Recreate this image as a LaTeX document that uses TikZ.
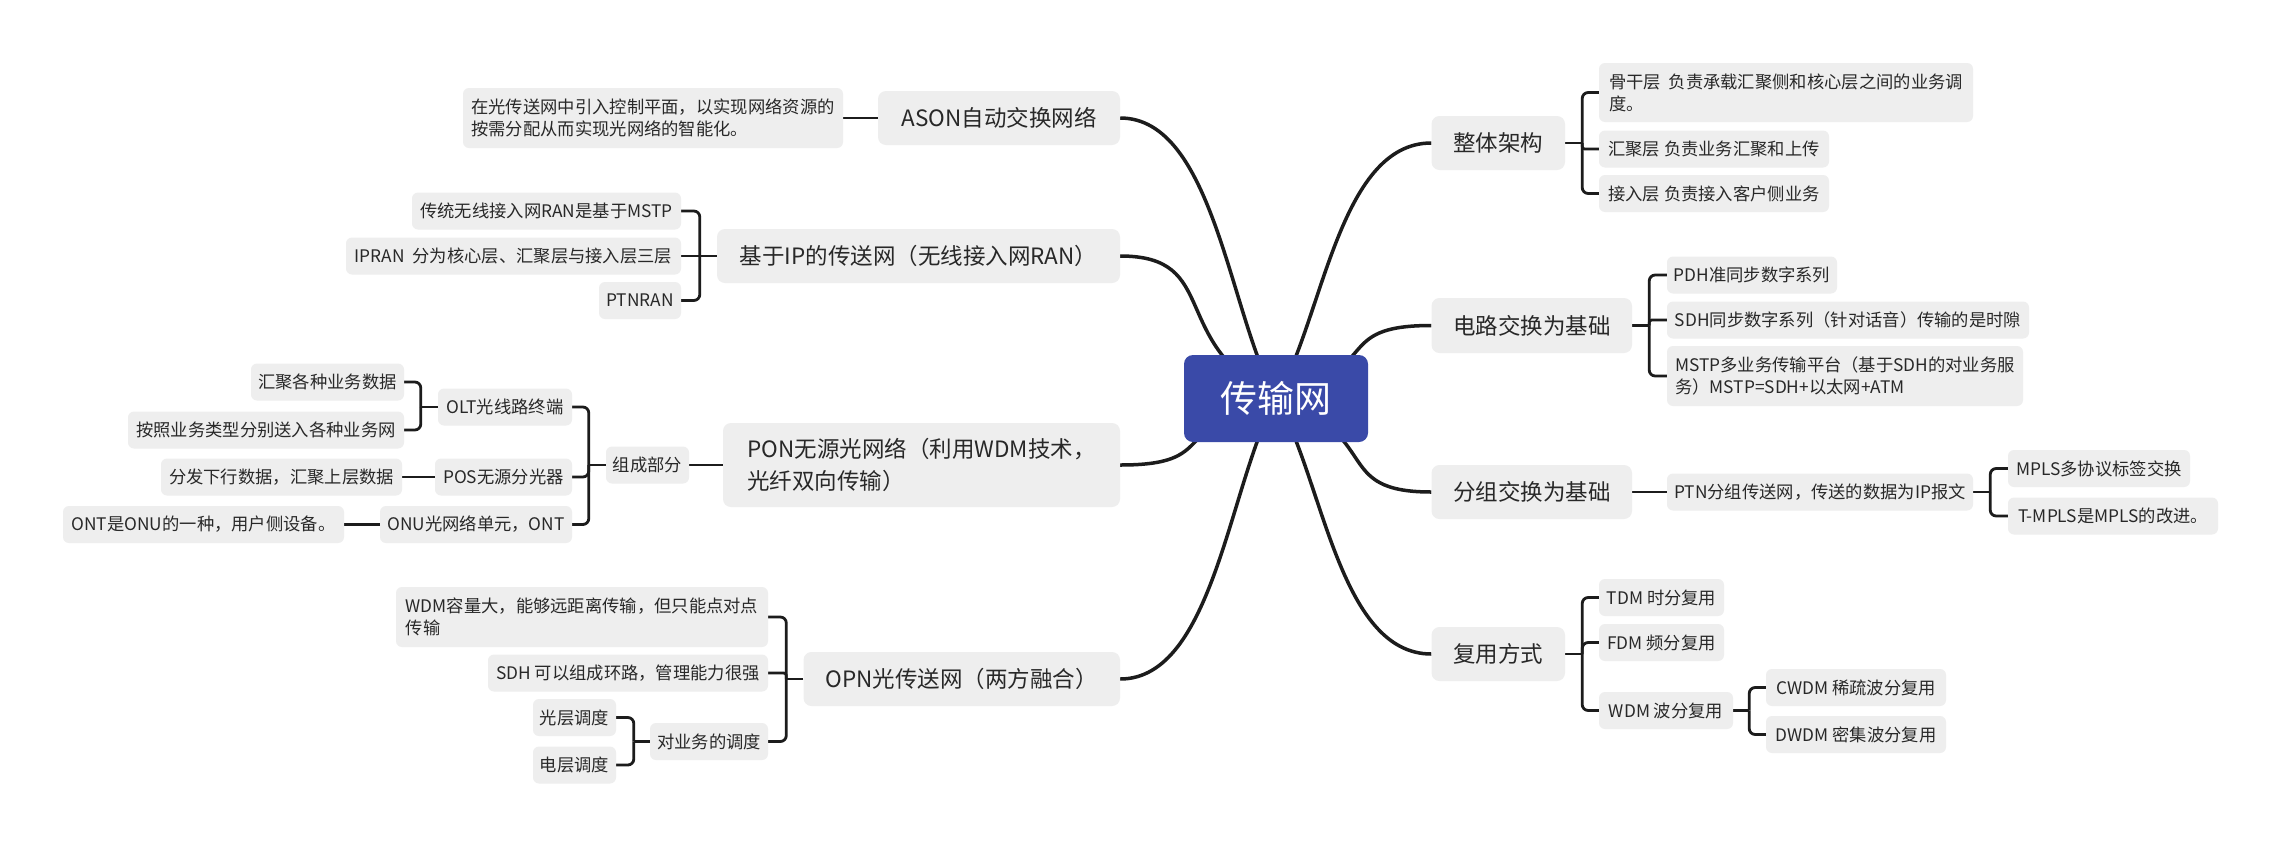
\documentclass[tikz,border=0pt]{standalone}
\usepackage{fontspec}
\setmainfont{Noto Sans CJK SC}
\usetikzlibrary{calc,backgrounds}

\definecolor{ink}{RGB}{28,28,28}
\definecolor{txt}{RGB}{40,40,40}
\definecolor{boxgray}{RGB}{238,238,238}
\definecolor{rootblue}{RGB}{58,74,168}

\tikzset{
  box/.style={fill=boxgray, rounded corners=6pt, inner sep=0pt, text=txt,
    minimum height=37pt, font=\fontsize{17.3}{22}\selectfont},
  lvone/.style={box, rounded corners=8pt, minimum height=54pt,
    font=\fontsize{22.5}{32}\selectfont},
  rootbox/.style={fill=rootblue, rounded corners=9pt, inner sep=0pt, text=white,
    font=\fontsize{37}{44}\selectfont},
  trunkline/.style={line width=3.5pt, draw=ink},
  twig/.style={line width=2.8pt, draw=ink, rounded corners=6pt},
  twigs/.style={line width=2.8pt, draw=ink, rounded corners=2.5pt},
}

% curved branch from the root: first control as fractions of (dx,dy), second pulled back horizontally
\newcommand\trunkcurve[4]{%
  \draw[trunkline] let \p1=(root.center), \p2=(#1) in
    (\p1) .. controls ({\x1+#2*(\x2-\x1)},{\y1+#3*(\y2-\y1)})
             and ({\x2-#4*(\x2-\x1)},\y2) .. (\p2);}

\begin{document}
\begin{tikzpicture}[x=1pt,y=-1pt]
\useasboundingbox (0,0) rectangle (2282,847);

% root
\node[rootbox, minimum width=184pt, minimum height=87pt] (root) at (1276,398.5) {传输网};

% main branches
\node[lvone, minimum width=242pt] (ason) at (999,118) {ASON自动交换网络};
\node[lvone, minimum width=403pt] (ip) at (918.5,256) {基于IP的传送网（无线接入网RAN）};
\node[lvone, minimum width=397pt, minimum height=84pt, align=left] (pon) at (921.5,465)
  {PON无源光网络（利用WDM技术，\\光纤双向传输）};
\node[lvone, minimum width=316.5pt] (opn) at (961.75,679) {OPN光传送网（两方融合）};
\node[lvone, minimum width=133.5pt] (arch) at (1498.25,143) {整体架构};
\node[lvone, minimum width=200.5pt, minimum height=55pt] (circ) at (1531.75,325.5) {电路交换为基础};
\node[lvone, minimum width=200.5pt] (pkt) at (1531.75,492) {分组交换为基础};
\node[lvone, minimum width=133.5pt] (mux) at (1498.25,654) {复用方式};

% ASON
\node[box, minimum width=380pt, minimum height=60pt, align=left] (asond) at (653,118)
  {在光传送网中引入控制平面，以实现网络资源的\\按需分配从而实现光网络的智能化。};

% IP transport network
\node[box, minimum width=269pt] (ipa) at (546.5,211) {传统无线接入网RAN是基于MSTP};
\node[box, minimum width=335pt] (ipb) at (513.5,256) {IPRAN~~分为核心层、汇聚层与接入层三层};
\node[box, minimum width=82pt] (ipc) at (640,300.5) {PTNRAN};

% PON
\node[box, minimum width=83pt] (parts) at (647.5,465) {组成部分};
\node[box, minimum width=134pt] (olt) at (505,407) {OLT光线路终端};
\node[box, minimum width=137pt] (pos) at (503.5,477) {POS无源分光器};
\node[box, minimum width=192pt] (onu) at (476,524.5) {ONU光网络单元，ONT};
\node[box, minimum width=153pt] (agg) at (327.5,382) {汇聚各种业务数据};
\node[box, minimum width=276pt] (dist) at (266,430) {按照业务类型分别送入各种业务网};
\node[box, minimum width=241pt] (down) at (281.5,477) {分发下行数据，汇聚上层数据};
\node[box, minimum width=281pt] (ontd) at (203.5,524.5) {ONT是ONU的一种，用户侧设备。};

% OPN
\node[box, minimum width=372pt, minimum height=60pt, align=left] (wdmd) at (582,617)
  {WDM容量大，能够远距离传输，但只能点对点\\传输};
\node[box, minimum width=280pt] (sdhd) at (628,673) {SDH 可以组成环路，管理能力很强};
\node[box, minimum width=118pt] (sched) at (709,741.5) {对业务的调度};
\node[box, minimum width=83pt] (opt) at (574.5,717.5) {光层调度};
\node[box, minimum width=83pt] (ele) at (574.5,765) {电层调度};

% overall architecture
\node[box, minimum width=374pt, minimum height=59pt, align=left] (bb) at (1786,92.5)
  {骨干层~~负责承载汇聚侧和核心层之间的业务调\\度。};
\node[box, minimum width=230pt] (cv) at (1714,149) {汇聚层 负责业务汇聚和上传};
\node[box, minimum width=230pt] (ac) at (1714,193.5) {接入层 负责接入客户侧业务};

% circuit switching
\node[box, minimum width=170pt] (pdh) at (1752,275) {PDH准同步数字系列};
\node[box, minimum width=362pt] (sdh) at (1848,320) {SDH同步数字系列（针对话音）传输的是时隙};
\node[box, minimum width=356pt, minimum height=60pt, align=left] (mstp) at (1845,376)
  {MSTP多业务传输平台（基于SDH的对业务服\\务）MSTP=SDH+以太网+ATM};

% packet switching
\node[box, minimum width=306pt] (ptn) at (1820,492) {PTN分组传送网，传送的数据为IP报文};
\node[box, minimum width=182pt] (mpls) at (2099,468.5) {MPLS多协议标签交换};
\node[box, minimum width=210pt] (tmpls) at (2113,516) {T-MPLS是MPLS的改进。};

% multiplexing
\node[box, minimum width=125pt] (tdm) at (1661.5,597.5) {TDM 时分复用};
\node[box, minimum width=125pt] (fdm) at (1661.5,642.5) {FDM 频分复用};
\node[box, minimum width=134pt] (wdm) at (1666,710.5) {WDM 波分复用};
\node[box, minimum width=180pt] (cwdm) at (1856,687.5) {CWDM 稀疏波分复用};
\node[box, minimum width=180pt] (dwdm) at (1856,734.5) {DWDM 密集波分复用};

% bracket junctions
\coordinate (jip) at ($(ip.west)+(-17,0)$);
\coordinate (jparts) at ($(parts.west)+(-17,0)$);
\coordinate (jolt) at ($(olt.west)+(-17,0)$);
\coordinate (jopn) at ($(opn.west)+(-17,0)$);
\coordinate (jsched) at ($(sched.west)+(-16,0)$);
\coordinate (jarch) at ($(arch.east)+(17,0)$);
\coordinate (jcirc) at ($(circ.east)+(17,0)$);
\coordinate (jptn) at ($(ptn.east)+(17,0)$);
\coordinate (jmux) at ($(mux.east)+(17,0)$);
\coordinate (jwdm) at ($(wdm.east)+(16,0)$);

\begin{scope}[on background layer]
  \fill[white] (0,0) rectangle (2282,847);

  % root branches
  \trunkcurve{ason.east}{0.3}{0.3}{0.6}
  \trunkcurve{ip.east}{0.7}{0.4}{0.65}
  \trunkcurve{pon.east}{0.7}{0.4}{0.65}
  \trunkcurve{opn.east}{0.3}{0.3}{0.6}
  \trunkcurve{arch.west}{0.3}{0.3}{0.6}
  \trunkcurve{circ.west}{0.7}{0.4}{0.65}
  \trunkcurve{pkt.west}{0.7}{0.4}{0.65}
  \trunkcurve{mux.west}{0.3}{0.3}{0.6}

  % single links
  \draw[twig] (ason.west) -- (asond.east);
  \draw[twig] (pon.west) -- (parts.east);
  \draw[twig] (pos.west) -- (down.east);
  \draw[twig] (onu.west) -- (ontd.east);
  \draw[twig] (pkt.east) -- (ptn.west);

  % IP
  \draw[twig] (ip.west) -- (jip);
  \draw[twig] (jip) |- (ipa.east);
  \draw[twig] (jip) -- (ipb.east);
  \draw[twig] (jip) |- (ipc.east);

  % PON parts
  \draw[twig] (parts.west) -- (jparts);
  \draw[twig] (jparts) |- (olt.east);
  \draw[twig] (jparts) |- (pos.east);
  \draw[twig] (jparts) |- (onu.east);
  \draw[twig] (olt.west) -- (jolt);
  \draw[twig] (jolt) |- (agg.east);
  \draw[twig] (jolt) |- (dist.east);

  % OPN
  \draw[twig] (opn.west) -- (jopn);
  \draw[twig] (jopn) |- (wdmd.east);
  \draw[twigs] (jopn) |- (sdhd.east);
  \draw[twig] (jopn) |- (sched.east);
  \draw[twig] (sched.west) -- (jsched);
  \draw[twig] (jsched) |- (opt.east);
  \draw[twig] (jsched) |- (ele.east);

  % architecture
  \draw[twig] (arch.east) -- (jarch);
  \draw[twig] (jarch) |- (bb.west);
  \draw[twigs] (jarch) |- (cv.west);
  \draw[twig] (jarch) |- (ac.west);

  % circuit switching
  \draw[twig] (circ.east) -- (jcirc);
  \draw[twig] (jcirc) |- (pdh.west);
  \draw[twigs] (jcirc) |- (sdh.west);
  \draw[twig] (jcirc) |- (mstp.west);

  % packet switching
  \draw[twig] (ptn.east) -- (jptn);
  \draw[twig] (jptn) |- (mpls.west);
  \draw[twig] (jptn) |- (tmpls.west);

  % multiplexing
  \draw[twig] (mux.east) -- (jmux);
  \draw[twig] (jmux) |- (tdm.west);
  \draw[twig] (jmux) |- (fdm.west);
  \draw[twig] (jmux) |- (wdm.west);
  \draw[twig] (wdm.east) -- (jwdm);
  \draw[twig] (jwdm) |- (cwdm.west);
  \draw[twig] (jwdm) |- (dwdm.west);
\end{scope}
\end{tikzpicture}
\end{document}
